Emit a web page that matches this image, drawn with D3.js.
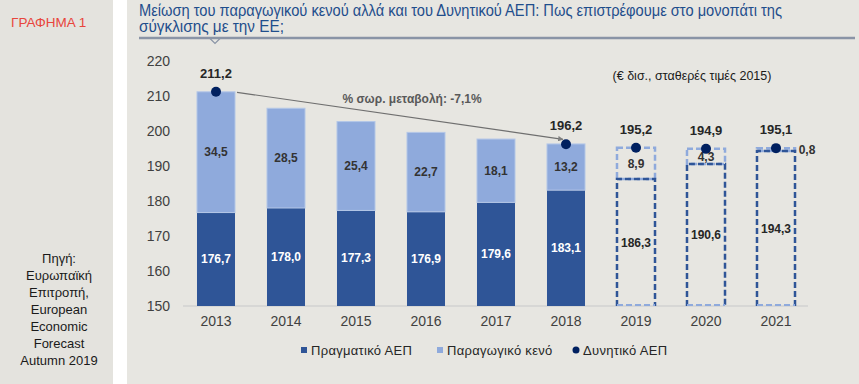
<!DOCTYPE html>
<html><head><meta charset="utf-8">
<script src="https://cdn.jsdelivr.net/npm/d3@7"></script>
<style>
html,body{margin:0;padding:0;background:#fff;}
svg{display:block;}
text{font-family:"Liberation Sans",Arial,sans-serif;}
</style></head>
<body>
<svg id="chart" width="859" height="384"></svg>
<script>
const years = ["2013","2014","2015","2016","2017","2018","2019","2020","2021"];
const realGDP = [176.7,178.0,177.3,176.9,179.6,183.1,186.3,190.6,194.3];
const outputGap = [34.5,28.5,25.4,22.7,18.1,13.2,8.9,4.3,0.8];
const potentialGDP = [211.2,206.5,202.7,199.6,197.7,196.2,195.2,194.9,195.1];
const forecastYears = ["2019","2020","2021"];
const potentialShown = ["2013","2018","2019","2020","2021"];
const yTicks = [150,160,170,180,190,200,210,220];
const legendLabels = ["Πραγματικό ΑΕΠ","Παραγωγικό κενό","Δυνητικό ΑΕΠ"];
const titleLines = ["Μείωση του παραγωγικού κενού αλλά και του Δυνητικού ΑΕΠ: Πως επιστρέφουμε στο μονοπάτι της","σύγκλισης με την ΕΕ;"];
const sourceLines = ["Πηγή:","Ευρωπαϊκή","Επιτροπή,","European","Economic","Forecast","Autumn 2019"];
const annotation = "% σωρ. μεταβολή: -7,1%";
const unitNote = "(€ δισ., σταθερές τιμές 2015)";

const fmt = v => v.toFixed(1).replace(".", ",");
const C_DARK = "#2f5597", C_LIGHT = "#8faadc", C_POINT = "#002060";

const svg = d3.select("#chart");
// backgrounds
svg.append("rect").attr("x",0).attr("y",0).attr("width",113).attr("height",384).attr("fill","#e4e3de");
svg.append("rect").attr("x",127).attr("y",0).attr("width",732).attr("height",384).attr("fill","#e7e6e1");

// left panel text
svg.append("text").attr("x",11).attr("y",27).attr("fill","#e8453c").attr("font-size",13.5).text("ΓΡΑΦΗΜΑ 1");
svg.append("g").selectAll("text").data(sourceLines).join("text")
  .attr("x",59).attr("y",(d,i)=>263+i*17).attr("text-anchor","middle")
  .attr("font-size",13).attr("fill","#1a1a1a").text(d=>d);

// title
const narrow = "'Liberation Sans Narrow','Arial Narrow','Liberation Sans',sans-serif";
svg.append("text").attr("x",139).attr("y",16)
  .style("font-family",narrow).attr("font-size",16).attr("fill","#1f4e8c")
  .attr("textLength",643).attr("lengthAdjust","spacingAndGlyphs").text(titleLines[0]);
svg.append("text").attr("x",139).attr("y",32)
  .style("font-family",narrow).attr("font-size",16).attr("fill","#1f4e8c")
  .attr("textLength",145).attr("lengthAdjust","spacingAndGlyphs").text(titleLines[1]);
svg.append("line").attr("x1",139).attr("x2",855).attr("y1",38).attr("y2",38).attr("stroke","#8a94a6").attr("stroke-width",2.5);
svg.append("path").attr("d","M210,38.5 L215,43.5 L220,38.5").attr("fill","none").attr("stroke","#8a94a6").attr("stroke-width",1.2);

// scales
const x = d3.scaleBand().domain(years).range([181,811]).paddingInner(0.457).paddingOuter(0.2285);
const y = d3.scaleLinear().domain([150,220]).range([306,61]);
const bw = x.bandwidth();

// y axis
const yAxis = d3.axisLeft(y).tickValues(yTicks).tickSize(0).tickPadding(0).tickFormat(d3.format("d"));
const gy = svg.append("g").attr("transform","translate(170,0)").call(yAxis);
gy.select(".domain").remove();
gy.selectAll("text").attr("font-size",14).attr("fill","#404040").attr("dy","0.35em")
  .style("font-family","'Liberation Sans',Arial,sans-serif");

// x axis baseline and labels
const xAxis = d3.axisBottom(x).tickSize(0).tickPadding(10);
const gx = svg.append("g").attr("transform","translate(0,306)").call(xAxis);
gx.select(".domain").attr("stroke","#d2d2d0").attr("stroke-width",1.5).attr("d","M183,0H808");
gx.selectAll("text").attr("font-size",14).attr("fill","#404040")
  .style("font-family","'Liberation Sans',Arial,sans-serif");

const rows = years.map((yr,i)=>({yr, real:realGDP[i], gap:outputGap[i], pot:potentialGDP[i], fc:forecastYears.includes(yr)}));

// historical bars
const hist = rows.filter(d=>!d.fc);
svg.append("g").selectAll("rect").data(hist).join("rect")
  .attr("x",d=>x(d.yr)).attr("width",bw)
  .attr("y",d=>y(d.real)).attr("height",d=>y(150)-y(d.real)).attr("fill",C_DARK);
svg.append("g").selectAll("rect").data(hist).join("rect")
  .attr("x",d=>x(d.yr)).attr("width",bw)
  .attr("y",d=>y(d.real+d.gap)).attr("height",d=>y(d.real)-y(d.real+d.gap))
  .attr("fill",C_LIGHT).attr("stroke","#b4c7e7").attr("stroke-width",1);

// forecast bars (dashed outlines)
const fc = rows.filter(d=>d.fc);
const gf = svg.append("g");
gf.selectAll("rect.gap").data(fc).join("rect").attr("class","gap")
  .attr("x",d=>x(d.yr)).attr("width",bw)
  .attr("y",d=>y(d.real+d.gap)).attr("height",d=>y(d.real)-y(d.real+d.gap))
  .attr("fill","none").attr("stroke",C_LIGHT).attr("stroke-width",2.5).attr("stroke-dasharray","6,3");
gf.selectAll("path.real").data(fc).join("path").attr("class","real")
  .attr("d",d=>`M${x(d.yr)},${y(150)}V${y(d.real)}H${x(d.yr)+bw}V${y(150)}`)
  .attr("fill","none").attr("stroke",C_DARK).attr("stroke-width",2.5).attr("stroke-dasharray","6,3");
gf.selectAll("line.bot").data(fc).join("line").attr("class","bot")
  .attr("x1",d=>x(d.yr)).attr("x2",d=>x(d.yr)+bw).attr("y1",y(150)-1).attr("y2",y(150)-1)
  .attr("stroke",C_LIGHT).attr("stroke-width",2).attr("stroke-dasharray","6,3");

// arrow annotation
const a0 = rows[0], a1 = rows[5];
svg.append("defs").append("marker").attr("id","arr").attr("viewBox","0 0 10 10").attr("refX",9).attr("refY",5)
  .attr("markerWidth",4.5).attr("markerHeight",4.5).attr("orient","auto")
  .append("path").attr("d","M0,0L10,5L0,10z").attr("fill","#7f7f7f");
svg.append("line").attr("x1",x(a0.yr)+bw+2).attr("y1",y(a0.pot)+0.5)
  .attr("x2",x(a1.yr)+bw/2-3).attr("y2",y(a1.pot)-5)
  .attr("stroke","#6f6f6f").attr("stroke-width",1.2).attr("marker-end","url(#arr)");
svg.append("text").attr("x",412).attr("y",103).attr("text-anchor","middle").attr("font-size",12).attr("font-weight","bold")
  .attr("fill","#595959").text(annotation);
svg.append("text").attr("x",692).attr("y",80).attr("text-anchor","middle").attr("font-size",12.5)
  .attr("fill","#1a1a1a").text(unitNote);

// value labels
svg.append("g").selectAll("text").data(rows).join("text")
  .attr("x",d=>x(d.yr)+bw/2).attr("y",d=>(y(150)+y(d.real))/2).attr("dy","0.35em")
  .attr("text-anchor","middle").attr("font-size",12).attr("font-weight","bold")
  .attr("fill",d=>d.fc?"#262626":"#ffffff").text(d=>fmt(d.real));
svg.append("g").selectAll("text").data(rows).join("text")
  .attr("x",d=>d.gap<2 ? x(d.yr)+bw+12 : x(d.yr)+bw/2)
  .attr("y",d=>(y(d.real)+y(d.real+d.gap))/2).attr("dy","0.35em")
  .attr("text-anchor","middle").attr("font-size",12).attr("font-weight","bold")
  .attr("fill","#333333").text(d=>fmt(d.gap));

// potential points and labels
const pts = rows.filter(d=>potentialShown.includes(d.yr));
svg.append("g").selectAll("circle").data(pts).join("circle")
  .attr("cx",d=>x(d.yr)+bw/2).attr("cy",d=>y(d.pot)).attr("r",5).attr("fill",C_POINT);
svg.append("g").selectAll("text").data(pts).join("text")
  .attr("x",d=>x(d.yr)+bw/2).attr("y",d=>y(d.pot)-14).attr("text-anchor","middle")
  .attr("font-size",13).attr("font-weight","bold").attr("fill","#262626").text(d=>fmt(d.pot));

// legend
const lg = svg.append("g");
const lx = [301,437,573];
lg.append("rect").attr("x",lx[0]).attr("y",347).attr("width",6).attr("height",6).attr("fill",C_DARK);
lg.append("rect").attr("x",lx[1]).attr("y",347).attr("width",6).attr("height",6).attr("fill",C_LIGHT);
lg.append("circle").attr("cx",lx[2]+3).attr("cy",350).attr("r",3.5).attr("fill",C_POINT);
lg.selectAll("text").data(legendLabels).join("text")
  .attr("x",(d,i)=>lx[i]+10).attr("y",355).attr("font-size",13).attr("letter-spacing",0.3)
  .attr("fill","#262626").text(d=>d);
</script>
</body></html>
